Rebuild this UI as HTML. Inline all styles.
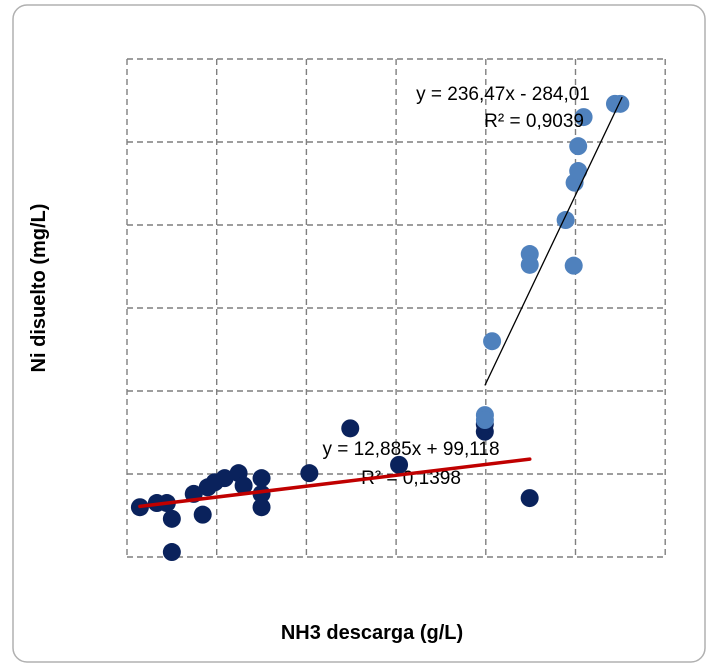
<!DOCTYPE html>
<html><head><meta charset="utf-8"><style>
body{margin:0;background:#fff;font-family:"Liberation Sans",sans-serif;}
svg{display:block}
</style></head><body>
<svg id="c" width="717" height="668">
<rect x="13" y="5" width="692" height="657" rx="14" fill="#fff" stroke="#b0b0b0" stroke-width="1.5"/>
<g id="grid"></g>
<g id="lines"></g>
<g id="pts"></g>
<text x="372" y="639" text-anchor="middle" font-size="20" font-weight="bold">NH3 descarga (g/L)</text>
<text transform="translate(45,288) rotate(-90)" text-anchor="middle" font-size="20" font-weight="bold">Ni disuelto (mg/L)</text>
<text x="503" y="100" text-anchor="middle" font-size="19">y = 236,47x - 284,01</text>
<text x="584" y="127" text-anchor="end" font-size="19">R² = 0,9039</text>
<text x="411" y="455" text-anchor="middle" font-size="19">y = 12,885x + 99,118</text>
<text x="411" y="484" text-anchor="middle" font-size="19">R² = 0,1398</text>
</svg>
<script>
const lowX=[0.144,0.333,0.444,0.5,0.5,0.744,0.844,0.9,0.978,1.089,1.244,1.3,1.5,1.5,1.5,2.033,2.489,3.033,3.989,3.989,4.489];
const lowY=[0.60,0.65,0.65,0.46,0.06,0.76,0.51,0.84,0.90,0.95,1.01,0.86,0.95,0.76,0.60,1.01,1.55,1.11,1.51,1.60,0.71];
const highX=[3.99,3.99,4.07,4.49,4.49,4.98,4.89,4.99,5.03,5.03,5.09,5.44,5.5];
const highY=[1.71,1.65,2.60,3.65,3.52,3.51,4.06,4.51,4.65,4.95,5.30,5.46,5.46];
const lowFit=[0.131,0.591,0.144,4.49];
const highFit=[2.27,-6.99,3.99,5.52];
const xTicks=[0,1,2,3,4,5,6];
const yTicks=[0,1,2,3,4,5,6];
const X0=127,XS=89.7,Y0=557,YS=83;
const sx=v=>X0+v*XS, sy=v=>Y0-v*YS;
const NS="http://www.w3.org/2000/svg";
function mk(t,a,p){const e=document.createElementNS(NS,t);for(const k in a)e.setAttribute(k,a[k]);p.appendChild(e);return e;}
const g=document.getElementById('grid');
xTicks.forEach(t=>{const l=mk('line',{x1:sx(t),x2:sx(t),y1:sy(6),y2:sy(0),stroke:'#7f7f7f','stroke-width':1.4,'stroke-dasharray':'6,4'},g);

});
yTicks.forEach(t=>{const l=mk('line',{x1:sx(0),x2:sx(6),y1:sy(t),y2:sy(t),stroke:'#7f7f7f','stroke-width':1.4,'stroke-dasharray':'6,4'},g);

});
const P=document.getElementById('pts');
lowX.forEach((x,i)=>{const c=mk('circle',{cx:sx(x),cy:sy(lowY[i]),r:9,fill:'#0a225c'},P);

});
highX.forEach((x,i)=>{const c=mk('circle',{cx:sx(x),cy:sy(highY[i]),r:9,fill:'#4f81bd'},P);

});
let a=mk('line',{x1:sx(lowFit[2]),y1:sy(lowFit[0]*lowFit[2]+lowFit[1]),x2:sx(lowFit[3]),y2:sy(lowFit[0]*lowFit[3]+lowFit[1]),stroke:'#c00000','stroke-width':3.5,'stroke-linecap':'round'},document.getElementById('c'));


let b=mk('line',{x1:sx(highFit[2]),y1:sy(highFit[0]*highFit[2]+highFit[1]),x2:sx(highFit[3]),y2:sy(highFit[0]*highFit[3]+highFit[1]),stroke:'#000','stroke-width':1.3},document.getElementById('c'));


</script>
</body></html>
